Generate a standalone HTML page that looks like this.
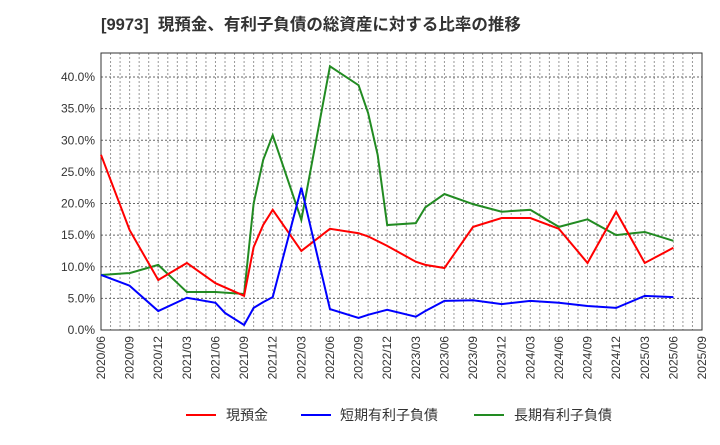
<!DOCTYPE html>
<html><head><meta charset="utf-8"><style>
body{margin:0;background:#fff;}
svg text{font-family:"Liberation Sans","Noto Sans CJK JP",sans-serif;}
</style></head><body>
<svg id="c" width="720" height="440" xmlns="http://www.w3.org/2000/svg">
<text x="101" y="30" font-size="16.5" font-weight="bold" fill="#333" xml:space="preserve">[9973]  現預金、有利子負債の総資産に対する比率の推移</text>
<g id="grid"></g><g id="axes"></g><g id="series"></g>
<g>
<line x1="186" y1="415" x2="216" y2="415" stroke="#f00" stroke-width="2"/>
<text x="226" y="420" font-size="14" fill="#333">現預金</text>
<line x1="301" y1="415" x2="331" y2="415" stroke="#00f" stroke-width="2"/>
<text x="340" y="420" font-size="14" fill="#333">短期有利子負債</text>
<line x1="474" y1="415" x2="504" y2="415" stroke="#228b22" stroke-width="2"/>
<text x="514" y="420" font-size="14" fill="#333">長期有利子負債</text>
</g>
</svg>
<script>
const tickLabels=["2020/06","2020/09","2020/12","2021/03","2021/06","2021/09","2021/12","2022/03","2022/06","2022/09","2022/12","2023/03","2023/06","2023/09","2023/12","2024/03","2024/06","2024/09","2024/12","2025/03","2025/06","2025/09"];
const yTicks=[0,5,10,15,20,25,30,35,40];
const cashMonths=[0,3,6,9,12,15,16,17,18,21,24,27,28,30,33,34,36,39,42,45,48,51,54,57,60];
const cashValues=[27.7,15.8,7.9,10.6,7.4,5.4,13.1,16.6,19.0,12.5,16.0,15.3,14.8,13.3,10.8,10.3,9.8,16.3,17.7,17.7,16.0,10.6,18.7,10.6,13.0];
const shortMonths=[0,3,6,9,12,13,15,16,17,18,21,24,27,28,30,33,34,36,39,42,45,48,51,54,57,60];
const shortValues=[8.7,7.0,3.0,5.1,4.3,2.7,0.8,3.5,4.4,5.2,22.5,3.3,1.9,2.4,3.2,2.1,3.0,4.6,4.7,4.1,4.6,4.3,3.8,3.5,5.4,5.2];
const longMonths=[0,3,6,9,12,15,16,17,18,21,24,27,28,29,30,33,34,36,39,42,45,48,51,54,57,60];
const longValues=[8.7,9.0,10.3,6.0,6.0,5.7,20.0,26.9,30.8,17.4,41.7,38.7,34.3,27.7,16.6,16.9,19.4,21.5,19.9,18.7,19.0,16.3,17.5,15.0,15.5,14.1];
const L=101,R=702,T=53,B=330;
const xs=m=>L+(R-L)*m/63;
const ys=v=>B-(B-77)*v/40;
const NS="http://www.w3.org/2000/svg";
function mk(tag,attrs,parent){const e=document.createElementNS(NS,tag);for(const k in attrs)e.setAttribute(k,attrs[k]);parent.appendChild(e);return e;}
const grid=document.getElementById('grid'),axes=document.getElementById('axes'),ser=document.getElementById('series');
for(let m=1;m<63;m++){const l=mk('line',{x1:xs(m),x2:xs(m),y1:T,y2:B,stroke:'#999','stroke-dasharray':'2,2','stroke-width':1},grid);

}
yTicks.forEach(v=>{const l=mk('line',{x1:L,x2:R,y1:ys(v),y2:ys(v),stroke:'#666','stroke-dasharray':'2,2','stroke-width':1},grid);


const t=mk('text',{x:L-6,y:ys(v)+4,'text-anchor':'end','font-size':12,fill:'#333'},axes);t.textContent=v.toFixed(1)+'%';

});
tickLabels.forEach((s,i)=>{const x=xs(i*3);const t=mk('text',{x:0,y:0,transform:`translate(${x+4},${B+6}) rotate(-90)`,'text-anchor':'end','font-size':12,fill:'#333'},axes);t.textContent=s;

});
const fr=mk('rect',{x:L,y:T,width:R-L,height:B-T,fill:'none',stroke:'#333','stroke-width':1},axes);


function line(ms,vs,col){return mk('polyline',{points:ms.map((m,i)=>xs(m)+','+ys(vs[i])).join(' '),fill:'none',stroke:col,'stroke-width':2},ser);}
const pLong=line(longMonths,longValues,'#228b22');


const pCash=line(cashMonths,cashValues,'#f00');


const pShort=line(shortMonths,shortValues,'#00f');


</script>
</body></html>
